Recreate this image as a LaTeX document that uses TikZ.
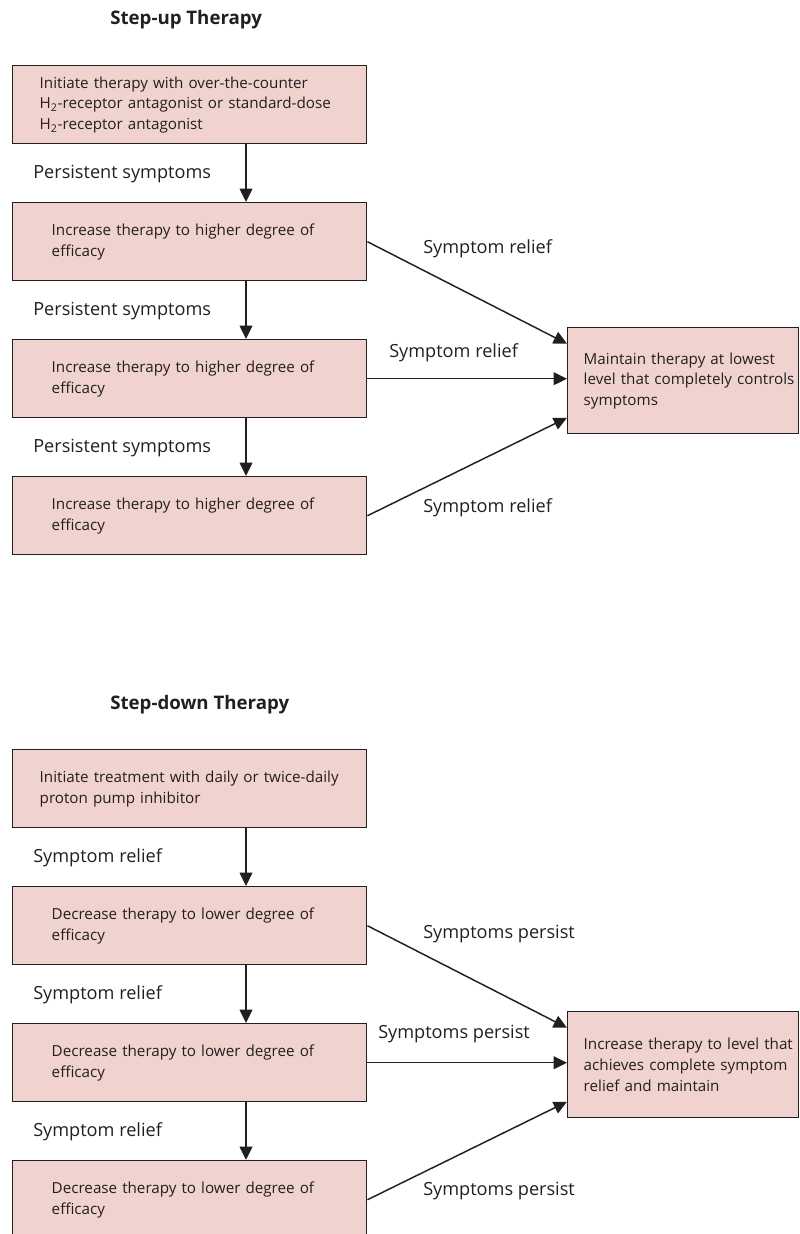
\documentclass[tikz,border=0pt]{standalone}
\usepackage{fontspec}
\setmainfont{Open Sans}
\usetikzlibrary{arrows.meta}
\definecolor{boxfill}{RGB}{240,211,206}
\definecolor{ink}{RGB}{35,31,32}
\tikzset{
  stepbox/.style={draw=ink, fill=boxfill, line width=1.1pt, anchor=north west, text=ink,
    align=left, minimum height=58.5pt, inner ysep=0pt, font=\fontsize{11.4}{15.5}\selectfont},
  firstbox/.style={stepbox, inner xsep=20.25pt, text width=225pt},
  nextbox/.style={stepbox, inner xsep=29.25pt, text width=207pt},
  goalbox/.style={stepbox, inner xsep=12pt, text width=149.25pt, minimum height=79.5pt},
  lbl/.style={anchor=base west, text=ink, inner sep=0pt, font=\fontsize{13.6}{16}\selectfont},
  ttl/.style={anchor=base west, text=ink, inner sep=0pt, font=\bfseries\fontsize{14}{16}\selectfont},
  arr/.style={draw=ink, line width=1.1pt, -{Triangle[length=10pt,width=9.5pt]}}
}
\begin{document}
\begin{tikzpicture}[x=0.75pt,y=-0.75pt]
    \useasboundingbox (0,0) rectangle (799,1234);
    % step-up therapy
    \node[ttl] (uptitle) at (110,25) {Step-up Therapy};
    \node[firstbox] (upinit) at (12,65) {Initiate therapy with over-the-counter\\
      H\textsubscript{2}-receptor antagonist or standard-dose\\H\textsubscript{2}-receptor antagonist};
    \node[nextbox] (upinc1) at (12,202) {Increase therapy to higher degree of\\efficacy};
    \node[nextbox] (upinc2) at (12,339) {Increase therapy to higher degree of\\efficacy};
    \node[nextbox] (upinc3) at (12,476) {Increase therapy to higher degree of\\efficacy};
    \node[goalbox] (upkeep) at (567,327) {\mbox{Maintain therapy at lowest}\\
      \mbox{level that completely controls}\\symptoms};
    % going down the steps
    \coordinate (upx) at (246,0);
    \draw[arr] (upinit.south -| upx) -- (upinc1.north -| upx);
    \draw[arr] (upinc1.south -| upx) -- (upinc2.north -| upx);
    \draw[arr] (upinc2.south -| upx) -- (upinc3.north -| upx);
    \node[lbl] (uppers1) at (33,178) {Persistent symptoms};
    \node[lbl] (uppers2) at (33,315) {Persistent symptoms};
    \node[lbl] (uppers3) at (33,452) {Persistent symptoms};
    % relief goes to the right
    \draw[arr] (upinc1.east) -- ([yshift=27.75pt]upkeep.west);
    \draw[arr] (upinc2.east) -- (upinc2.east -| upkeep.west);
    \draw[arr] (upinc3.east) -- ([yshift=-27.75pt]upkeep.west);
    \node[lbl] (uprel1) at (423,253) {Symptom relief};
    \node[lbl] (uprel2) at (389,357) {Symptom relief};
    \node[lbl] (uprel3) at (423,512) {Symptom relief};
    % step-down therapy
    \node[ttl] (dntitle) at (110,709) {Step-down Therapy};
    \node[firstbox] (dninit) at (12,749) {Initiate treatment with daily or twice-daily\\proton pump inhibitor};
    \node[nextbox] (dndec1) at (12,886) {Decrease therapy to lower degree of\\efficacy};
    \node[nextbox] (dndec2) at (12,1023) {Decrease therapy to lower degree of\\efficacy};
    \node[nextbox] (dndec3) at (12,1160) {Decrease therapy to lower degree of\\efficacy};
    \node[goalbox] (dnkeep) at (567,1011) {\mbox{Increase therapy to level that}\\
      \mbox{achieves complete symptom}\\\mbox{relief and maintain}};
    % going down the steps
    \coordinate (dnx) at (246,0);
    \draw[arr] (dninit.south -| dnx) -- (dndec1.north -| dnx);
    \draw[arr] (dndec1.south -| dnx) -- (dndec2.north -| dnx);
    \draw[arr] (dndec2.south -| dnx) -- (dndec3.north -| dnx);
    \node[lbl] (dnrel1) at (33,862) {Symptom relief};
    \node[lbl] (dnrel2) at (33,999) {Symptom relief};
    \node[lbl] (dnrel3) at (33,1136) {Symptom relief};
    % persisting goes to the right
    \draw[arr] (dndec1.east) -- ([yshift=27.75pt]dnkeep.west);
    \draw[arr] (dndec2.east) -- (dndec2.east -| dnkeep.west);
    \draw[arr] (dndec3.east) -- ([yshift=-27.75pt]dnkeep.west);
    \node[lbl] (dnper1) at (423,938) {Symptoms persist};
    \node[lbl] (dnper2) at (378,1038) {Symptoms persist};
    \node[lbl] (dnper3) at (423,1195) {Symptoms persist};
\end{tikzpicture}
\end{document}
